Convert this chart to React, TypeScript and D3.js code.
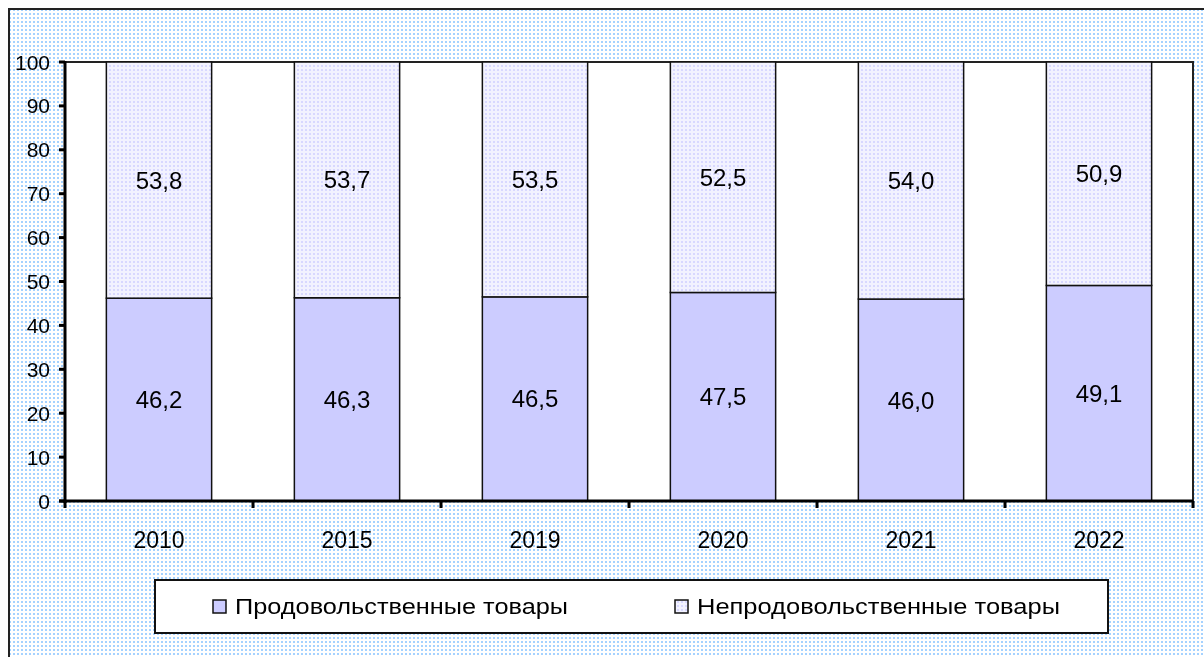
import * as d3 from "d3";

const years = ["2010", "2015", "2019", "2020", "2021", "2022"];
const foodShare = [46.2, 46.3, 46.5, 47.5, 46.0, 49.1];
const nonFoodShare = [53.8, 53.7, 53.5, 52.5, 54.0, 50.9];
const yTicks = [0, 10, 20, 30, 40, 50, 60, 70, 80, 90, 100];
const legendLabels = ["Продовольственные товары", "Непродовольственные товары"];

const W = 1204;
const H = 657;
const margin = { left: 65, right: 11, top: 62, bottom: 156 };
const font = "'Liberation Sans', Arial, sans-serif";

const fmt = (v: number) => v.toFixed(1).replace(".", ",");

// legend item layout: marker x, label width
const legendPos = [
  { mx: 213, tw: 333 },
  { mx: 675, tw: 363 },
];

export default function App() {
  const x = d3
    .scaleBand<string>()
    .domain(years)
    .range([margin.left, W - margin.right])
    .paddingInner(0.44)
    .paddingOuter(0.22);
  const y = d3
    .scaleLinear()
    .domain([0, 100])
    .range([H - margin.bottom, margin.top]);

  const step = x.step();
  const x0 = margin.left;
  const x1 = W - margin.right;
  const y0 = y(0);
  const yTop = y(100);

  return (
    <div style={{ position: "fixed", left: 0, top: 0 }}>
      <svg width={W} height={H} style={{ display: "block", fontFamily: font }}>
        <defs>
          <pattern id="bgDots" width="4" height="4" patternUnits="userSpaceOnUse">
            <rect width="4" height="4" fill="#ffffff" />
            <rect x="1" y="1" width="2" height="2" fill="#b0d8ff" />
            <rect x="1.5" y="1.5" width="1" height="1" fill="#85c2ff" />
          </pattern>
          <pattern id="nonFood" width="4" height="4" patternUnits="userSpaceOnUse">
            <rect width="4" height="4" fill="#f2f2ff" />
            <rect x="1" y="1" width="2" height="2" fill="#d8d8ff" />
          </pattern>
        </defs>

        {/* chart area background */}
        <rect x={9} y={9} width={W + 10} height={H + 10} fill="url(#bgDots)" stroke="#222" strokeWidth={2} />

        {/* plot area */}
        <rect x={x0} y={yTop} width={x1 - x0} height={y0 - yTop} fill="#ffffff" stroke="#222" strokeWidth={2} />

        {/* bars */}
        {years.map((yr, i) => {
          const bx = x(yr)!;
          const bw = x.bandwidth();
          const f = foodShare[i];
          const n = nonFoodShare[i];
          return (
            <g key={yr}>
              <rect x={bx} y={y(f)} width={bw} height={y0 - y(f)} fill="#ccccff" stroke="#111" strokeWidth={1.5} />
              <rect x={bx} y={y(f + n)} width={bw} height={y(f) - y(f + n)} fill="url(#nonFood)" stroke="#111" strokeWidth={1.5} />
              <text x={bx + bw / 2} y={y(f / 2)} textAnchor="middle" dominantBaseline="central" fontSize={24} fill="#000">
                {fmt(f)}
              </text>
              <text x={bx + bw / 2} y={y(f + n / 2)} textAnchor="middle" dominantBaseline="central" fontSize={24} fill="#000">
                {fmt(n)}
              </text>
            </g>
          );
        })}

        {/* y axis */}
        <line x1={x0} x2={x0} y1={yTop - 1} y2={y0 + 2} stroke="#000" strokeWidth={3} />
        {yTicks.map((t) => (
          <g key={t}>
            <line x1={x0 - 6} x2={x0} y1={y(t)} y2={y(t)} stroke="#000" strokeWidth={3} />
            <text x={x0 - 15} y={y(t)} textAnchor="end" dominantBaseline="central" fontSize={21} fill="#000">
              {t}
            </text>
          </g>
        ))}

        {/* x axis */}
        <line x1={x0 - 6} x2={x1} y1={y0} y2={y0} stroke="#000" strokeWidth={3} />
        {d3.range(years.length + 1).map((k) => (
          <line key={k} x1={x0 + k * step} x2={x0 + k * step} y1={y0} y2={y0 + 7} stroke="#000" strokeWidth={3} />
        ))}
        {years.map((yr) => (
          <text key={yr} x={x(yr)! + x.bandwidth() / 2} y={y0 + 39} textAnchor="middle" dominantBaseline="central" fontSize={23} fill="#000">
            {yr}
          </text>
        ))}

        {/* legend */}
        <rect x={155} y={580} width={953} height={53} fill="#ffffff" stroke="#111" strokeWidth={2} />
        {legendLabels.map((lab, i) => {
          const { mx, tw } = legendPos[i];
          return (
            <g key={lab}>
              <rect x={mx} y={600} width={13} height={13} fill={i === 0 ? "#ccccff" : "url(#nonFood)"} stroke="#111" strokeWidth={1.5} />
              <text
                x={mx + 22}
                y={606}
                dominantBaseline="central"
                fontSize={22}
                textLength={tw}
                lengthAdjust="spacingAndGlyphs"
                fill="#000"
              >
                {lab}
              </text>
            </g>
          );
        })}
      </svg>
    </div>
  );
}
